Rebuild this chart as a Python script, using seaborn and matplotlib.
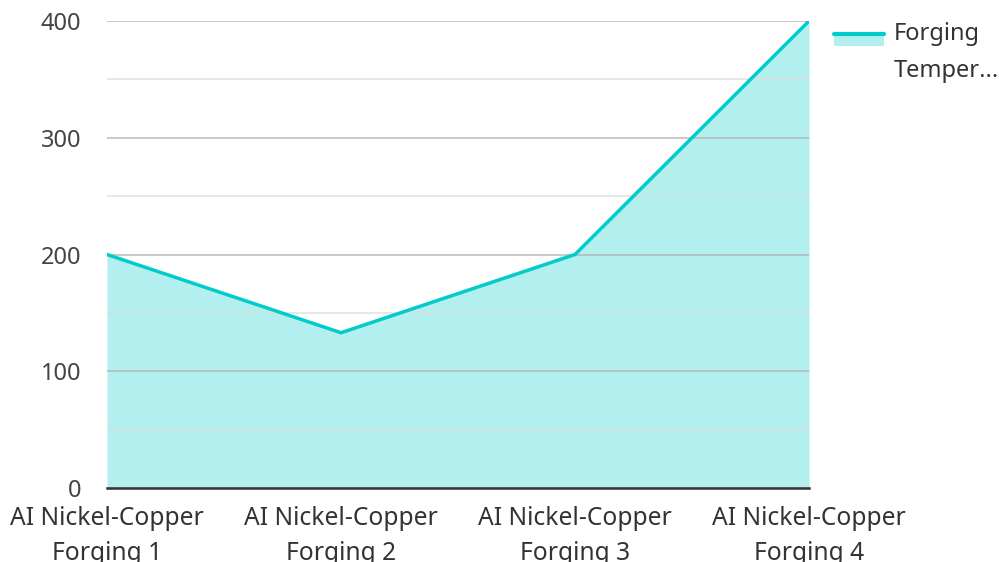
import matplotlib
matplotlib.use("Agg")
import matplotlib.pyplot as plt
import seaborn as sns
import pandas as pd
from matplotlib.patches import Rectangle
from matplotlib.lines import Line2D
from matplotlib.legend_handler import HandlerBase
from matplotlib.ticker import MultipleLocator

categories = ["AI Nickel-Copper\nForging 1", "AI Nickel-Copper\nForging 2",
              "AI Nickel-Copper\nForging 3", "AI Nickel-Copper\nForging 4"]
values = [200, 133, 200, 400]
series_name = "Forging\nTemper..."

LINE = "#00cccc"
FILL = "#b2efee"
FS = 17

sns.set_theme(style="white")
plt.rcParams['font.family'] = ['Noto Sans', 'DejaVu Sans']

df = pd.DataFrame({"x": range(len(categories)), "y": values})

fig = plt.figure(figsize=(9.99, 5.62), dpi=100)
ax = fig.add_axes([107/999, 1 - 488/562, (809-107)/999, (488-21)/562])

ax.fill_between(df["x"], df["y"], 0, color=FILL, linewidth=0, zorder=2)
sns.lineplot(data=df, x="x", y="y", ax=ax, color=LINE, linewidth=2.5, zorder=3)

ax.set_xlim(0, len(categories) - 1)
ax.set_ylim(0, 400)
ax.yaxis.set_major_locator(MultipleLocator(100))
ax.yaxis.set_minor_locator(MultipleLocator(50))
ax.set_axisbelow(False)
ax.grid(which="major", axis="y", color="#b0b0b0", linewidth=1.2, alpha=0.8)
ax.grid(which="minor", axis="y", color="#dcdcdc", linewidth=1.2, alpha=0.8)

ax.set_xticks(df["x"])
ax.set_xticklabels(categories, linespacing=1.5)
ax.tick_params(axis="x", length=0, pad=13, labelsize=17.7, labelcolor="#333333")
ax.tick_params(axis="y", which="both", length=0, pad=18.7, labelsize=FS, labelcolor="#444444")
ax.set_xlabel("")
ax.set_ylabel("")
for s in ["top", "right", "left"]:
    ax.spines[s].set_visible(False)
ax.spines["bottom"].set_color("#333333")
ax.spines["bottom"].set_linewidth(1.8)
ax.spines["bottom"].set_zorder(4)


class AreaHandler(HandlerBase):
    def create_artists(self, legend, orig_handle, xdescent, ydescent,
                       width, height, fontsize, trans):
        top = height - ydescent + 7.8
        r = Rectangle((-xdescent, top - 8.6), width, 8.6, facecolor=FILL,
                      edgecolor="none", transform=trans)
        l = Line2D([-xdescent, -xdescent + width], [top, top], color=LINE,
                   linewidth=3, transform=trans)
        return [r, l]


handle = Rectangle((0, 0), 1, 1)
leg = fig.legend([handle], [series_name], handler_map={Rectangle: AreaHandler()},
                 loc="upper left", bbox_to_anchor=(834/999, 1 - 22/562),
                 frameon=False, fontsize=FS, handlelength=2.1, handletextpad=0.42,
                 borderpad=0, borderaxespad=0, labelspacing=0.3)
for t in leg.get_texts():
    t.set_color("#333333")
    t.set_linespacing(1.7)

fig.savefig("out.png", dpi=100)
